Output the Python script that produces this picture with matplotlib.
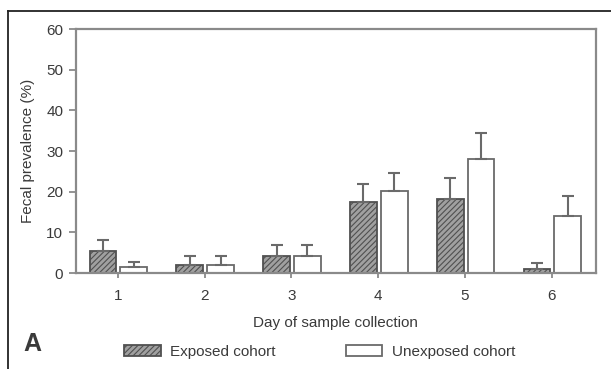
import matplotlib
matplotlib.use("Agg")
import matplotlib.pyplot as plt
import numpy as np
from matplotlib.lines import Line2D

plt.rcParams['font.family'] = ['Liberation Sans', 'DejaVu Sans']
plt.rcParams['hatch.color'] = '#4a4a4a'
plt.rcParams['hatch.linewidth'] = 0.8

days = [1, 2, 3, 4, 5, 6]
exposed = [5.5, 2.0, 4.1, 17.4, 18.1, 1.1]
exposed_err = [2.6, 2.1, 2.7, 4.4, 5.4, 1.4]
unexposed = [1.5, 2.0, 4.1, 20.1, 28.0, 14.1]
unexposed_err = [1.2, 2.1, 2.7, 4.6, 6.4, 4.8]
xticklabels = ['1', '2', '3', '4', '5', '6']
yticks = [0, 10, 20, 30, 40, 50, 60]

txt = '#3a3a3a'
spine_c = '#8a8a8a'

fig = plt.figure(figsize=(6.11, 3.69), dpi=100)
ax = fig.add_axes([0.124, 0.260, 0.851, 0.661])

x = np.array(days, dtype=float)
w = 0.31
err_kw = dict(ecolor='#6a6a6a', elinewidth=1.5, capsize=4.5, capthick=1.5)
ax.bar(x - 0.17, exposed, width=w, color='#a0a0a0', edgecolor='#505050',
       linewidth=1.3, hatch='//////', label='Exposed cohort',
       yerr=[np.zeros(len(exposed)), exposed_err], error_kw=err_kw, zorder=2)
ax.bar(x + 0.185, unexposed, width=w, color='white', edgecolor='#6a6a6a',
       linewidth=1.3, label='Unexposed cohort',
       yerr=[np.zeros(len(unexposed)), unexposed_err], error_kw=err_kw, zorder=2)

ax.set_xlim(0.516, 6.507)
ax.set_ylim(0, 60)
ax.set_xticks(days)
ax.set_xticklabels(xticklabels)
ax.set_yticks(yticks)
for s in ax.spines.values():
    s.set_color(spine_c)
    s.set_linewidth(1.6)
ax.tick_params(axis='both', colors=spine_c, labelcolor=txt, labelsize=11,
               width=1.3, direction='out')
ax.tick_params(axis='y', length=5, pad=4)
ax.tick_params(axis='x', length=3.5, pad=8)
ax.set_xlabel('Day of sample collection', fontsize=11, color=txt, labelpad=9)
ax.set_ylabel('Fecal prevalence (%)', fontsize=11, color=txt, labelpad=8)

handles, labels = ax.get_legend_handles_labels()
leg = fig.legend(handles, labels, loc='center', bbox_to_anchor=(0.523, 0.047),
                 ncol=2, frameon=False, fontsize=11, handlelength=2.4,
                 handleheight=0.75, handletextpad=0.6, columnspacing=4.6,
                 labelcolor=txt)

fig.text(0.038, 0.068, 'A', fontsize=18, fontweight='bold', color=txt,
         ha='left', va='center')

# outer frame (left and top)
fig.add_artist(Line2D([8/611, 8/611], [0, 1 - 11/369], transform=fig.transFigure,
                      color='#222222', linewidth=1.3))
fig.add_artist(Line2D([8/611, 1], [1 - 11/369, 1 - 11/369], transform=fig.transFigure,
                      color='#222222', linewidth=1.3))

fig.savefig('out.png', dpi=100)
